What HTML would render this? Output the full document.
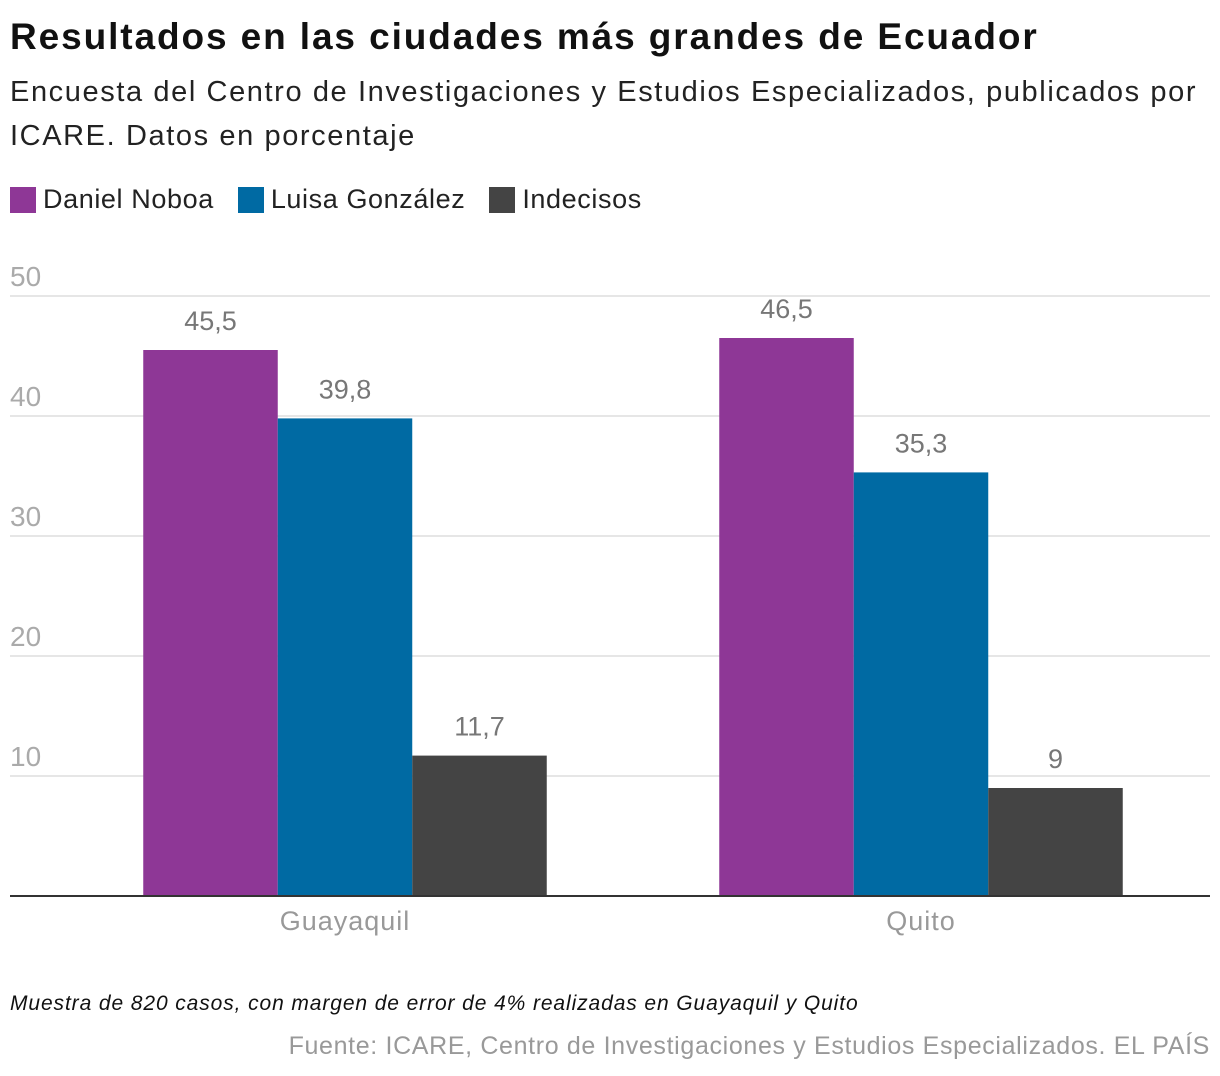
<!DOCTYPE html>
<html><head><meta charset="utf-8">
<style>
body{margin:0;width:1220px;height:1076px;background:#fff;font-family:"Liberation Sans",sans-serif;position:relative;overflow:hidden}
.t{position:absolute;white-space:nowrap}
</style></head><body>
<div class="t" style="left:10px;top:16px;font-size:37px;font-weight:bold;color:#111;letter-spacing:1.9px">Resultados en las ciudades más grandes de Ecuador</div>
<div class="t" style="left:10px;top:70px;font-size:29px;color:#222;line-height:44px;white-space:normal;width:1205px;letter-spacing:1.6px">Encuesta del Centro de Investigaciones y Estudios Especializados, publicados por ICARE. Datos en porcentaje</div>
<div class="t" style="left:10px;top:184px;font-size:27px;color:#222;display:flex;align-items:center;letter-spacing:0.6px">
<span style="display:flex;align-items:center;margin-right:24px"><span style="width:26px;height:26px;background:#8e3796;margin-right:7px"></span>Daniel Noboa</span>
<span style="display:flex;align-items:center;margin-right:24px"><span style="width:26px;height:26px;background:#006aa3;margin-right:7px"></span>Luisa González</span>
<span style="display:flex;align-items:center"><span style="width:26px;height:26px;background:#444;margin-right:7px"></span>Indecisos</span>
</div>
<svg id="chart" width="1220" height="1076" style="position:absolute;left:0;top:0" font-family="Liberation Sans, sans-serif"></svg>
<div class="t" style="left:10px;top:992px;font-size:21px;font-style:italic;color:#111;letter-spacing:0.9px">Muestra de 820 casos, con margen de error de 4% realizadas en Guayaquil y Quito</div>
<div class="t" style="right:10px;top:1032px;font-size:25px;color:#999;letter-spacing:0.65px">Fuente: ICARE, Centro de Investigaciones y Estudios Especializados. EL PAÍS</div>
<script>
const categories=["Guayaquil","Quito"];
const noboa=[45.5,46.5];
const gonzalez=[39.8,35.3];
const indecisos=[11.7,9];
const yTicks=[10,20,30,40,50];
const series=[{name:"noboa",vals:noboa,color:"#8e3796"},{name:"gonzalez",vals:gonzalez,color:"#006aa3"},{name:"indecisos",vals:indecisos,color:"#444"}];
const svg=document.getElementById('chart');
const NS="http://www.w3.org/2000/svg";
const y=v=>896-v*12;
const xc=i=>345+i*576;
const bw=134.5;
function mk(tag,attrs){const e=document.createElementNS(NS,tag);for(const k in attrs)e.setAttribute(k,attrs[k]);svg.appendChild(e);return e;}
yTicks.forEach(t=>{
 const l=mk('line',{x1:10,x2:1210,y1:y(t),y2:y(t),stroke:'#ddd','stroke-width':1.5});
 
 
 const tx=mk('text',{x:10,y:y(t)-10,'font-size':28,fill:'#aaa'});tx.textContent=t;
 
 
});
categories.forEach((c,i)=>{
 series.forEach((s,j)=>{
  const x0=xc(i)-1.5*bw+j*bw;
  const r=mk('rect',{x:x0,y:y(s.vals[i]),width:bw,height:896-y(s.vals[i]),fill:s.color});
  
  
  const tx=mk('text',{x:x0+bw/2,y:y(s.vals[i])-20,'font-size':27,fill:'#777','text-anchor':'middle'});
  tx.textContent=String(s.vals[i]).replace('.',',');
  
  
 });
 const ct=mk('text',{x:xc(i),y:930,'font-size':27,fill:'#999','text-anchor':'middle','letter-spacing':1});ct.textContent=c;
 
 
});
const ax=mk('line',{x1:10,x2:1210,y1:896,y2:896,stroke:'#333','stroke-width':2});


</script>
</body></html>
